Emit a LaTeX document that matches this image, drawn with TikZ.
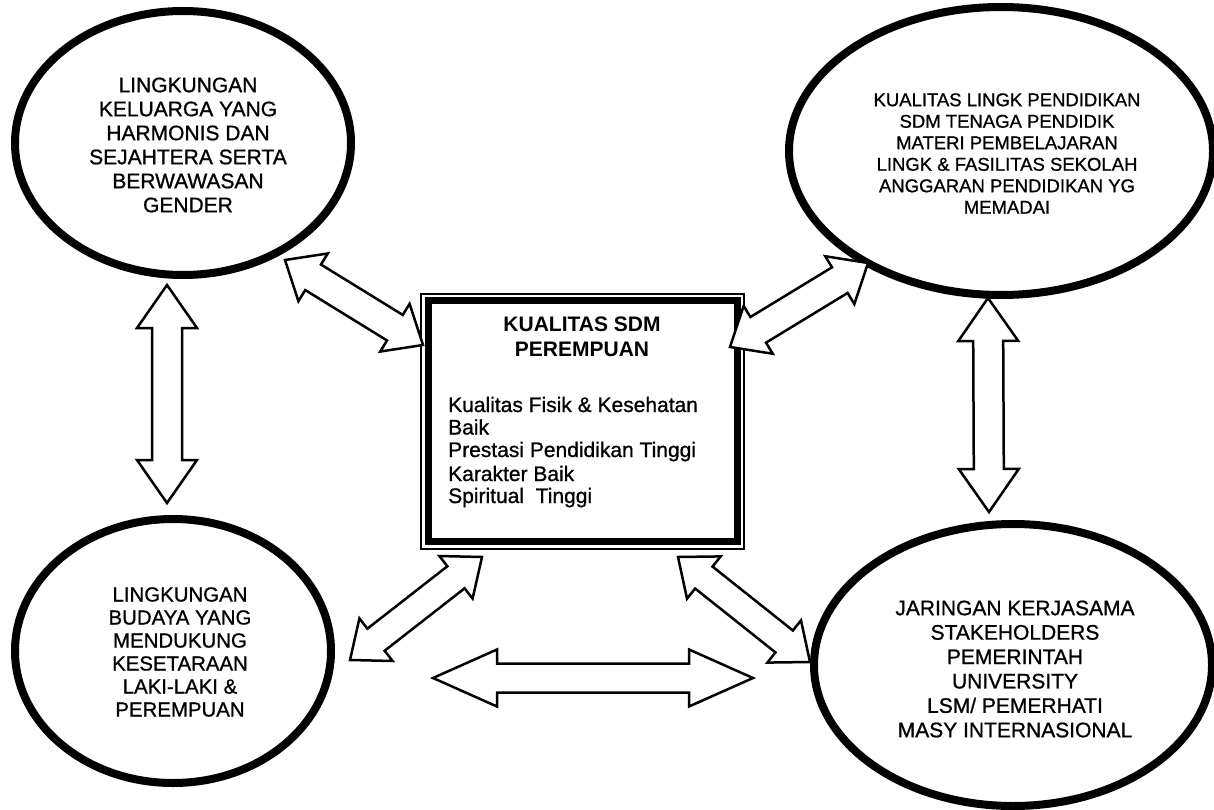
\documentclass[tikz,border=0pt]{standalone}
\usepackage{fontspec}
\setmainfont{Liberation Sans}
\newfontfamily\scanfont{Liberation Sans}[FakeBold=0.9]
\usetikzlibrary{shapes.geometric,calc}
\tikzset{
  bubble/.style={draw, ellipse, line width=8pt, inner sep=0pt, outer sep=0pt},
  etext/.style={align=center, inner sep=0pt},
  blockarrow/.style={draw, fill=white, line width=2.5pt, line join=miter},
  listline/.style={anchor=base west, inner sep=0pt, font=\scanfont\fontsize{21}{25}\selectfont},
  thickbox/.style={draw, line width=7pt, inner sep=0pt, outer sep=0pt},
}
% #1 tip A, #2 tip B, #3 shaft half width, #4 head half width, #5 head length
\newcommand{\dblarrow}[5]{%
  \path ($(#1)!#5!(#2)$) coordinate (hA) ($(#2)!#5!(#1)$) coordinate (hB);
  \draw[blockarrow] (#1) -- ($(hA)!#4!90:(#2)$) -- ($(hA)!#3!90:(#2)$)
    -- ($(hB)!#3!-90:(#1)$) -- ($(hB)!#4!-90:(#1)$) -- (#2)
    -- ($(hB)!#4!90:(#1)$) -- ($(hB)!#3!90:(#1)$)
    -- ($(hA)!#3!-90:(#2)$) -- ($(hA)!#4!-90:(#2)$) -- cycle;}
\begin{document}
\begin{tikzpicture}[x=1pt,y=-1pt]
\useasboundingbox (0,0) rectangle (1214,810);
\clip (0,0) rectangle (1214,810);
\fill[white] (0,0) rectangle (1214,810);

% ellipses
\node[bubble, minimum width=336pt, minimum height=264pt] (fam) at (183,143) {};
\node[bubble, minimum width=424pt, minimum height=288pt] (edu) at (1001,151) {};
\node[bubble, minimum width=316pt, minimum height=264pt] (cul) at (173,651) {};
\node[bubble, minimum width=398pt, minimum height=282pt] (net) at (1013,665) {};

\node[etext, font=\scanfont\fontsize{21}{24}\selectfont] (famt) at (188,145)
  {LINGKUNGAN\\KELUARGA YANG\\HARMONIS DAN\\SEJAHTERA SERTA\\BERWAWASAN\\GENDER};
\node[etext, font=\scanfont\fontsize{18.5}{21.5}\selectfont] (edut) at (1007,153.5)
  {KUALITAS LINGK PENDIDIKAN\\SDM TENAGA PENDIDIK\\MATERI PEMBELAJARAN\\LINGK \& FASILITAS SEKOLAH\\ANGGARAN PENDIDIKAN YG\\MEMADAI};
\node[etext, font=\scanfont\fontsize{20.4}{23}\selectfont] (cult) at (180,652)
  {LINGKUNGAN\\BUDAYA YANG\\MENDUKUNG\\KESETARAAN\\LAKI-LAKI \&\\PEREMPUAN};
\node[etext, font=\scanfont\fontsize{21}{24.4}\selectfont] (nett) at (1015,669)
  {JARINGAN KERJASAMA\\STAKEHOLDERS\\PEMERINTAH\\UNIVERSITY\\LSM/ PEMERHATI\\MASY INTERNASIONAL};

% central box
\node[thickbox, minimum width=309pt, minimum height=241pt] (box) at (582.5,421) {};
\draw[line width=2pt] ($(box.north west)+(-7,-7)$) rectangle ($(box.south east)+(7,7)$);
\node[etext, font=\bfseries\fontsize{21}{25}\selectfont] (title) at (582,336.5)
  {KUALITAS SDM\\PEREMPUAN};
\node[listline] (l1) at (448,412) {Kualitas Fisik \& Kesehatan};
\node[listline] (l2) at (448,434.5) {Baik};
\node[listline] (l3) at (448,457) {Prestasi Pendidikan Tinggi};
\node[listline] (l4) at (448,481) {Karakter Baik};
\node[listline] (l5) at (448,503) {Spiritual\ \ Tinggi};

% arrow tips
\coordinate (a1s) at (285,260); \coordinate (a1e) at (423,345);
\coordinate (a2s) at (730,347); \coordinate (a2e) at (868,263);
\coordinate (a3s) at (167,285); \coordinate (a3e) at (167,503);
\coordinate (a4s) at (988,298); \coordinate (a4e) at (989,512);
\coordinate (a5s) at (350,660); \coordinate (a5e) at (482,557);
\coordinate (a6s) at (678,557); \coordinate (a6e) at (810,662);
\coordinate (a7s) at (433,678); \coordinate (a7e) at (753,678);

\dblarrow{a1s}{a1e}{15pt}{28pt}{33pt}
\dblarrow{a2s}{a2e}{15pt}{28pt}{33pt}
\dblarrow{a3s}{a3e}{15pt}{30pt}{43pt}
\dblarrow{a4s}{a4e}{15pt}{30pt}{43pt}
\dblarrow{a5s}{a5e}{14pt}{27pt}{33pt}
\dblarrow{a6s}{a6e}{14pt}{27pt}{33pt}
\dblarrow{a7s}{a7e}{14.5pt}{28.5pt}{64pt}
\end{tikzpicture}
\end{document}
